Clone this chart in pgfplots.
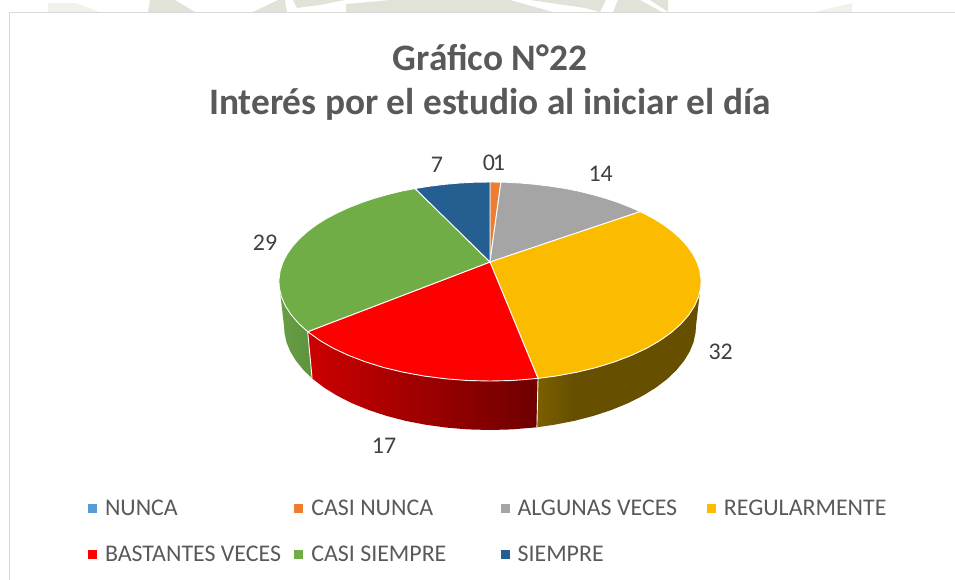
\documentclass[border=0pt]{standalone}
\usepackage{pgfplots}
\pgfplotsset{compat=1.18}
\usepackage{fontspec}
\setmainfont{Carlito}
\definecolor{cNunca}{HTML}{5B9BD5}
\definecolor{cCasiNunca}{HTML}{ED7D31}
\definecolor{cAlgunas}{HTML}{A5A5A5}
\definecolor{cRegular}{HTML}{FBBC00}
\definecolor{cBastantes}{HTML}{FF0000}
\definecolor{cCasiSiempre}{HTML}{70AD47}
\definecolor{cSiempre}{HTML}{255E91}
\definecolor{ttext}{HTML}{595959}
\definecolor{ltext}{HTML}{404040}
\definecolor{yA}{HTML}{7C5F00}
\definecolor{yB}{HTML}{665000}
\definecolor{rA}{HTML}{CC0000}
\definecolor{rB}{HTML}{6E0000}
\definecolor{gA}{HTML}{5E933E}
\definecolor{gB}{HTML}{689E45}
\definecolor{wm}{HTML}{E2E3D8}
\definecolor{wmb}{HTML}{F1F1EA}
\pgfdeclarehorizontalshading{yellowwall}{100bp}{color(0bp)=(yA); color(25bp)=(yA); color(36bp)=(yB); color(100bp)=(yB)}
\pgfdeclarehorizontalshading{redwall}{100bp}{color(0bp)=(rA); color(25bp)=(rA); color(75bp)=(rB); color(100bp)=(rB)}
\pgfdeclarehorizontalshading{greenwall}{100bp}{color(0bp)=(gB); color(25bp)=(gB); color(75bp)=(gA); color(100bp)=(gA)}
\begin{document}
\begin{tikzpicture}
\begin{axis}[
  at={(0,0)}, anchor=south west,
  width=955bp, height=580bp, scale only axis,
  xmin=0, xmax=955, ymin=0, ymax=580, y dir=reverse,
  hide axis, clip=false,
  legend columns=4,
  legend cell align=left,
  legend image code/.code={\fill[#1,draw=none] (0bp,-4.5bp) rectangle (9bp,4.5bp);},
  legend style={at={(axis cs:88,500)}, anchor=north west, draw=none, fill=none,
    inner sep=0pt, outer sep=0pt, font=\fontsize{24}{24}\selectfont, text=ttext,
    column sep=8bp, row sep=29bp,
    nodes={inner sep=0pt, outer sep=0pt}},
]
% watermark above the frame
\addplot[fill=wmb,draw=none,forget plot] coordinates {(48,3)(75,3)(100,12)(48,12)} --cycle;
\addplot[fill=wm,draw=none,forget plot] coordinates {(150,0)(175,0)(195,12)(148,12)} --cycle;
\addplot[fill=wm,draw=none,forget plot] coordinates {(253,12)(278,0)(285,0)(287,12)} --cycle;
\addplot[fill=wm,draw=none,forget plot] coordinates {(293,0)(345,0)(320,5)(297,8)} --cycle;
\addplot[fill=wm,draw=none,forget plot] coordinates {(346,12)(346,4)(390,0)(510,0)(553,12)} --cycle;
\addplot[fill=wm,draw=none,forget plot] coordinates {(530,0)(606,0)(600,12)(585,8)} --cycle;
\addplot[fill=wm,draw=none,forget plot] coordinates {(613,12)(618,0)(640,0)(662,12)} --cycle;
\addplot[fill=wm,draw=none,forget plot] coordinates {(650,0)(668,0)(668,12)} --cycle;
\addplot[fill=wmb,draw=none,forget plot] coordinates {(815,12)(852,3)(852,12)} --cycle;
% frame
\addplot[draw=black!15,line width=1.6bp,forget plot] coordinates {(9.5,580)(9.5,12.5)(955,12.5)};
% side walls
\addplot[shading=greenwall,draw=none,forget plot] coordinates {
 (307.7,331.7)(299,323.8)(291.3,315)(285.5,306.1)(281.5,297.1)(279.4,288.1)(278.9,281.5)
 (284,326)(284.5,332.9)(286.5,342.3)(290.4,351.7)(296.1,361)(303.6,370.2)(312.1,378.4)} --cycle;
\addplot[shading=redwall,draw=none,forget plot] coordinates {
 (538,378.4)(512.4,380.5)(490,381)(467.6,380.5)(445.5,378.8)(423.9,376)(403.2,372.2)(383.6,367.5)(365.3,361.8)(348.6,355.4)(333.4,348.3)(320.1,340.6)(307.7,331.7)
 (312.1,378.4)(324.2,387.7)(337.2,395.7)(352,403.2)(368.4,409.9)(386.2,415.8)(405.3,420.8)(425.5,424.7)(446.5,427.6)(468.1,429.4)(490,430)(511.9,429.4)(536.9,427.3)} --cycle;
\addplot[shading=yellowwall,draw=none,forget plot] coordinates {
 (701.1,281.5)(700.6,288.1)(698.5,297.1)(694.5,306.1)(688.7,315)(681,323.8)(671.4,332.4)(659.9,340.6)(646.6,348.3)(631.4,355.4)(614.7,361.8)(596.4,367.5)(576.8,372.2)(556.1,376)(538,378.4)
 (536.9,427.3)(554.5,424.7)(574.7,420.8)(593.8,415.8)(611.6,409.9)(628,403.2)(642.8,395.7)(655.8,387.7)(667,379.2)(676.4,370.2)(683.9,361)(689.6,351.7)(693.5,342.3)(695.5,332.9)(696,326)} --cycle;
\addplot[draw=white,line width=0.9bp,forget plot] coordinates {(538,378.4)(536.9,427.3)};
\addplot[draw=white,line width=0.9bp,forget plot] coordinates {(307.7,331.7)(312.1,378.4)};
% top faces, one for each category, in the order of the legend
\addplot[fill=cNunca,draw=none] coordinates {(490,262)(490,182)(490,182)} --cycle;
\addlegendentry{\makebox[181.3bp][l]{NUNCA}}
\addplot[fill=cCasiNunca,draw=white,line width=0.9bp] coordinates {(490,262)(490,182)(500.9,182.1)} --cycle;
\addlegendentry{\makebox[181.3bp][l]{CASI NUNCA}}
\addplot[fill=cAlgunas,draw=white,line width=0.9bp] coordinates {(490,262)(500.9,182.1)(505.1,182.2)(520.1,183)(535,184.3)(549.8,186.1)(564.3,188.3)(578.5,191.1)(592.3,194.5)(605.7,198.3)(618.5,202.6)(630.8,207.4)(640.2,211.6)} --cycle;
\addlegendentry{\makebox[181.3bp][l]{ALGUNAS VECES}}
\addplot[fill=cRegular,draw=white,line width=0.9bp] coordinates {(490,262)(640.2,211.6)(642.4,212.7)(653.3,218.4)(663.3,224.6)(672.3,231.3)(680.3,238.4)(687.1,245.9)(692.7,253.8)(697,262)(699.8,270.5)(701,279.2)(701.1,281.5)(700.6,288.1)(698.5,297.1)(694.5,306.1)(688.7,315)(681,323.8)(671.4,332.4)(659.9,340.6)(646.6,348.3)(631.4,355.4)(614.7,361.8)(596.4,367.5)(576.8,372.2)(556.1,376)(538,378.4)} --cycle;
\addlegendentry{\makebox[181.3bp][l]{REGULARMENTE}}
\addplot[fill=cBastantes,draw=white,line width=0.9bp] coordinates {(490,262)(538,378.4)(512.4,380.5)(490,381)(467.6,380.5)(445.5,378.8)(423.9,376)(403.2,372.2)(383.6,367.5)(365.3,361.8)(348.6,355.4)(333.4,348.3)(320.1,340.6)(307.7,331.7)} --cycle;
\addlegendentry{\makebox[181.3bp][l]{BASTANTES VECES}}
\addplot[fill=cCasiSiempre,draw=white,line width=0.9bp] coordinates {(490,262)(307.7,331.7)(299,323.8)(291.3,315)(285.5,306.1)(281.5,297.1)(279.4,288.1)(278.9,281.5)(279,279.2)(280.2,270.5)(283,262)(287.3,253.8)(292.9,245.9)(299.7,238.4)(307.7,231.3)(316.7,224.6)(326.7,218.4)(337.6,212.7)(349.2,207.4)(361.5,202.6)(374.3,198.3)(387.7,194.5)(401.5,191.1)(415.1,188.5)} --cycle;
\addlegendentry{\makebox[181.3bp][l]{CASI SIEMPRE}}
\addplot[fill=cSiempre,draw=white,line width=0.9bp] coordinates {(490,262)(415.1,188.5)(430.2,186.1)(445,184.3)(459.9,183)(474.9,182.2)(490,182)} --cycle;
\addlegendentry{\makebox[181.3bp][l]{SIEMPRE}}
% title
\node[text=ttext,font=\bfseries\fontsize{37.5}{37.5}\selectfont,inner sep=0pt] at (axis cs:490,57.5) {Gráfico N°22};
\node[text=ttext,font=\bfseries\fontsize{37.5}{37.5}\selectfont,inner sep=0pt] at (axis cs:490,104.5) {Interés por el estudio al iniciar el día};
% data labels
\node[text=ltext,font=\fontsize{24}{24}\selectfont,inner sep=0pt] at (axis cs:489,163) {0};
\node[text=ltext,font=\fontsize{24}{24}\selectfont,inner sep=0pt] at (axis cs:499,163) {1};
\node[text=ltext,font=\fontsize{24}{24}\selectfont,inner sep=0pt] at (axis cs:600.7,174) {14};
\node[text=ltext,font=\fontsize{24}{24}\selectfont,inner sep=0pt] at (axis cs:720.7,352) {32};
\node[text=ltext,font=\fontsize{24}{24}\selectfont,inner sep=0pt] at (axis cs:384,446) {17};
\node[text=ltext,font=\fontsize{24}{24}\selectfont,inner sep=0pt] at (axis cs:265,243) {29};
\node[text=ltext,font=\fontsize{24}{24}\selectfont,inner sep=0pt] at (axis cs:437,165) {7};
\end{axis}
\pgfresetboundingbox
\useasboundingbox (0,0) rectangle (955bp,580bp);
\end{tikzpicture}
\end{document}
